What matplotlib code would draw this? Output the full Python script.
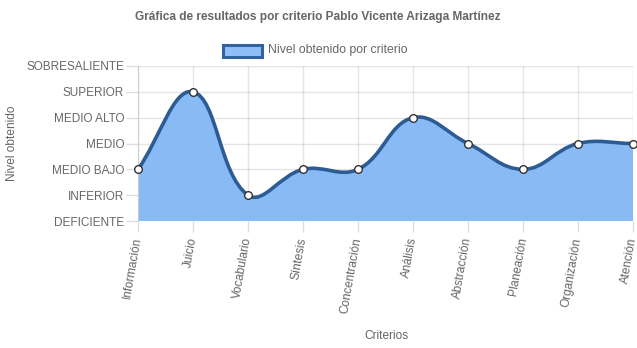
import matplotlib
matplotlib.use("Agg")
import matplotlib.pyplot as plt
import matplotlib.patches as mpatches
from matplotlib.path import Path
import numpy as np

plt.rcParams["font.family"] = ["Liberation Sans", "DejaVu Sans"]

niveles = ["DEFICIENTE", "INFERIOR", "MEDIO BAJO", "MEDIO", "MEDIO ALTO", "SUPERIOR", "SOBRESALIENTE"]
criterios = ["Información", "Juicio", "Vocabulario", "Síntesis", "Concentración",
             "Análisis", "Abstracción", "Planeación", "Organización", "Atención"]
valores = [2, 5, 1, 2, 2, 4, 3, 2, 3, 3]

gris = "#666666"
linea = "#2d5b93"
relleno = "#88bbf5"
tension = 0.4

W, H = 637, 348
fig = plt.figure(figsize=(W / 100, H / 100), dpi=100)
ax = fig.add_axes([138 / W, 1 - 221 / H, (633 - 138) / W, (221 - 66) / H])
ax.set_xlim(0, len(criterios) - 1)
ax.set_ylim(0, len(niveles) - 1)

# control points like a Chart.js spline, computed in pixel space
xs = np.arange(len(valores))
pts = ax.transData.transform(np.column_stack([xs, valores]))
n = len(pts)
ctrl_prev = pts.copy()
ctrl_next = pts.copy()
for i in range(n):
    prev = pts[max(i - 1, 0)]
    cur = pts[i]
    nxt = pts[min(i + 1, n - 1)]
    d01 = np.hypot(*(cur - prev))
    d12 = np.hypot(*(nxt - cur))
    tot = d01 + d12
    s01 = d01 / tot if tot else 0
    s12 = d12 / tot if tot else 0
    ctrl_prev[i] = cur - tension * s01 * (nxt - prev)
    ctrl_next[i] = cur + tension * s12 * (nxt - prev)

verts = [pts[0]]
codes = [Path.MOVETO]
for i in range(1, n):
    verts += [ctrl_next[i - 1], ctrl_prev[i], pts[i]]
    codes += [Path.CURVE4] * 3
inv = ax.transData.inverted()
curve_data = inv.transform(np.array(verts))

# filled area down to the lowest level
fill_verts = list(curve_data) + [(xs[-1], 0), (0, 0), tuple(curve_data[0])]
fill_codes = codes + [Path.LINETO, Path.LINETO, Path.CLOSEPOLY]
ax.add_patch(mpatches.PathPatch(Path(fill_verts, fill_codes), facecolor=relleno,
                                edgecolor="none", zorder=2))
ax.add_patch(mpatches.PathPatch(Path(curve_data, codes), facecolor="none",
                                edgecolor=linea, lw=2.6, zorder=3, capstyle="round"))
ax.plot(xs, valores, "o", ms=5.5, mfc="white", mec="#333333", mew=1, zorder=4, clip_on=False)

# grid and axes
ax.set_xticks(xs)
ax.set_xticklabels(criterios, rotation=80, ha="right", va="center",
                   rotation_mode="anchor", fontsize=8.6, color=gris)
ax.set_yticks(range(len(niveles)))
ax.set_yticklabels(niveles, fontsize=8.5, color=gris)
ax.tick_params(axis="y", length=9, width=1, color="#dddddd", pad=1)
ax.tick_params(axis="x", length=8, width=1, color="#dddddd", pad=4)
ax.grid(True, color="#000000", alpha=0.1, lw=1, zorder=1)
ax.set_axisbelow(True)
for s in ax.spines.values():
    s.set_visible(False)
ax.spines["left"].set_visible(True)
ax.spines["left"].set_color("#cccccc")

fig.text(12 / W, 1 - 143 / H, "Nivel obtenido", rotation=90, ha="center", va="center",
         fontsize=8.6, color=gris)
fig.text(386 / W, 1 - 336 / H, "Criterios", ha="center", va="center", fontsize=8.6, color=gris)

# title and legend
fig.text(318 / W, 1 - 17 / H, "Gráfica de resultados por criterio Pablo Vicente Arizaga Martínez",
         ha="center", va="center", fontsize=8.6, fontweight="bold", color=gris)
fig.patches.append(mpatches.Rectangle((223 / W, 1 - 57 / H), 39 / W, 12 / H,
                                      transform=fig.transFigure, facecolor="#8fbff5",
                                      edgecolor="#3263a0", lw=2.2))
fig.text(268 / W, 1 - 50 / H, "Nivel obtenido por criterio", ha="left", va="center",
         fontsize=8.8, color=gris)

fig.savefig("out.png", dpi=100)
